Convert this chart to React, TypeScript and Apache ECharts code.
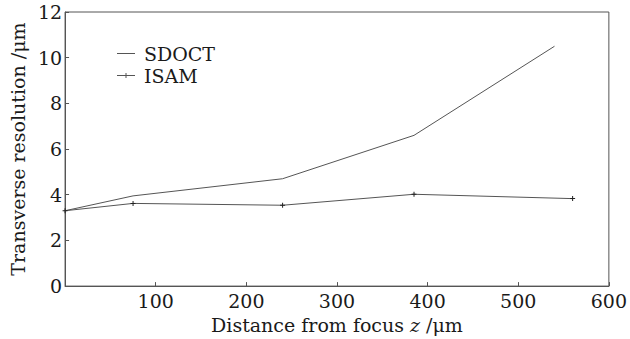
import React, { useEffect, useRef } from "react";
import * as echarts from "echarts";

const sdoctX = [0, 75, 240, 385, 540];
const sdoctY = [3.3, 3.95, 4.7, 6.6, 10.5];
const isamX = [0, 75, 240, 385, 560];
const isamY = [3.3, 3.62, 3.54, 4.02, 3.83];
const xTicks = [0, 100, 200, 300, 400, 500, 600];
const yTicks = [0, 2, 4, 6, 8, 10, 12];

const FONT = "DejaVu Serif";
const INK = "#1a1a1a";
const LINE = "#555";

export default function App() {
  const ref = useRef<HTMLDivElement>(null);
  useEffect(() => {
    const chart = echarts.init(ref.current!, null, { renderer: "svg" });
    const plus = "path://M4,0H6V4H10V6H6V10H4V6H0V4H4Z";
    const box = "M0,0L0.001,0Z M18,10L17.999,10Z ";
    const lineIcon = "path://" + box + "M0,4.6H18V5.4H0Z";
    const plusIcon =
      "path://" + box + "M0,4.6H8.5V2.5H9.5V4.6H18V5.4H9.5V7.5H8.5V5.4H0Z";
    chart.setOption({
      animation: false,
      backgroundColor: "#fff",
      textStyle: { fontFamily: FONT, color: INK },
      grid: {
        left: 60,
        right: 13,
        top: 12,
        bottom: 52,
        show: true,
        borderColor: LINE,
        borderWidth: 1,
      },
      legend: {
        left: 112,
        top: 39,
        orient: "vertical",
        itemGap: 3,
        itemWidth: 18,
        itemHeight: 10,
        textStyle: { fontFamily: FONT, fontSize: 19, color: INK, padding: [0, 0, 0, 4] },
        data: [
          { name: "SDOCT", icon: lineIcon, itemStyle: { color: LINE } },
          { name: "ISAM", icon: plusIcon, itemStyle: { color: LINE } },
        ],
      },
      xAxis: {
        type: "value",
        min: xTicks[0],
        max: xTicks[xTicks.length - 1],
        interval: xTicks[1] - xTicks[0],
        name: "{a|Distance from focus }{i|z}{a| /μm}",
        nameLocation: "middle",
        nameGap: 22,
        nameTextStyle: {
          rich: {
            a: { fontFamily: FONT, fontSize: 19, color: INK },
            i: { fontFamily: FONT, fontSize: 19, color: INK, fontStyle: "italic" },
          },
        },
        axisLine: { show: true, lineStyle: { color: LINE, width: 1 } },
        axisTick: { show: true, inside: true, length: 4, lineStyle: { color: LINE } },
        axisLabel: {
          showMinLabel: false,
          fontFamily: FONT,
          fontSize: 19,
          color: INK,
          margin: 5,
        },
        splitLine: { show: false },
      },
      yAxis: {
        type: "value",
        min: yTicks[0],
        max: yTicks[yTicks.length - 1],
        interval: yTicks[1] - yTicks[0],
        name: "Transverse resolution /μm",
        nameLocation: "middle",
        nameGap: 30,
        nameTextStyle: { fontFamily: FONT, fontSize: 19, color: INK },
        axisLine: { show: true, lineStyle: { color: LINE, width: 1 } },
        axisTick: { show: true, inside: true, length: 4, lineStyle: { color: LINE } },
        axisLabel: { fontFamily: FONT, fontSize: 19, color: INK, margin: 3 },
        splitLine: { show: false },
      },
      series: [
        {
          name: "SDOCT",
          type: "line",
          data: sdoctX.map((x, i) => [x, sdoctY[i]]),
          symbol: "none",
          lineStyle: { color: LINE, width: 1 },
          itemStyle: { color: LINE },
        },
        {
          name: "ISAM",
          type: "line",
          data: isamX.map((x, i) => [x, isamY[i]]),
          symbol: plus,
          symbolSize: 5,
          showAllSymbol: true,
          lineStyle: { color: LINE, width: 1 },
          itemStyle: { color: "#222" },
        },
      ],
    });
    return () => chart.dispose();
  }, []);
  return (
    <div
      ref={ref}
      style={{ position: "fixed", left: 0, top: 0, width: 630, height: 339 }}
    />
  );
}
